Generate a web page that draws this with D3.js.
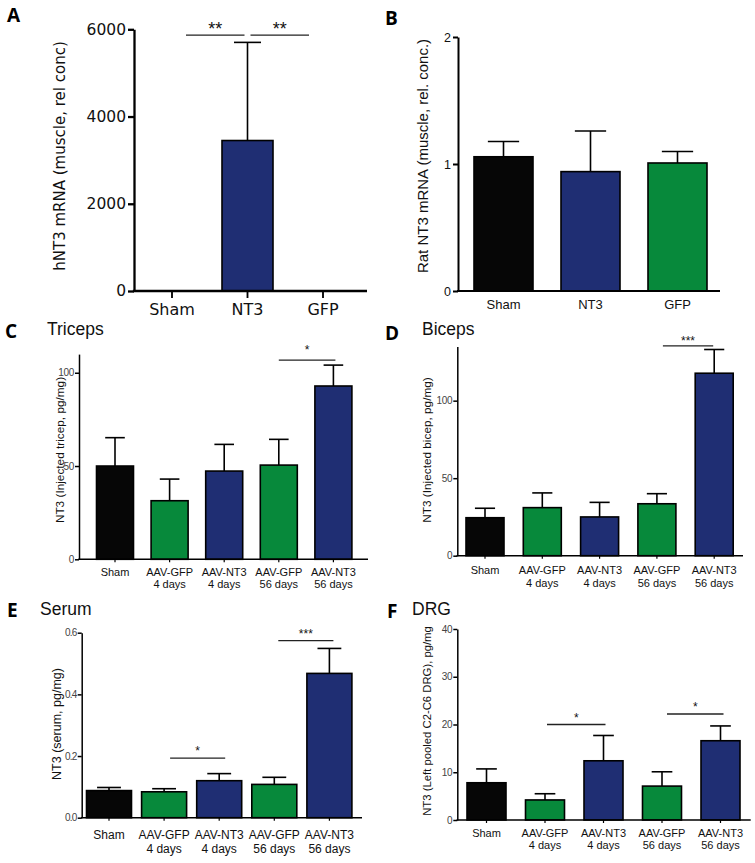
<!DOCTYPE html>
<html><head><meta charset="utf-8">
<script src="https://cdn.jsdelivr.net/npm/d3@7"></script>
<style>body{margin:0;background:#fff}svg{display:block}</style>
</head><body>
<svg id="chart" width="755" height="863"></svg>
<script>
// ---------- data ----------
const catsAB = [["Sham"], ["NT3"], ["GFP"]];
const catsCF = [["Sham"], ["AAV-GFP", "4 days"], ["AAV-NT3", "4 days"], ["AAV-GFP", "56 days"], ["AAV-NT3", "56 days"]];
const groupsAB = ["sham", "nt3", "gfp"];
const groupsCF = ["sham", "gfp", "nt3", "gfp", "nt3"];

const meanA = [0, 3450, 0];
const semA = [0, 2250, 0];
const ticksA = [0, 2000, 4000, 6000];
const sigA = [[0, 1, "**", 5865], [1, 2, "**", 5865]];

const meanB = [1.057, 0.94, 1.008];
const semB = [0.12, 0.32, 0.09];
const ticksB = [0, 1, 2];

const meanC = [50, 31.4, 47.3, 50.5, 92.9];
const semC = [15.2, 11.6, 14.3, 13.8, 11.2];
const ticksC = [0, 50, 100];
const sigC = [[3, 4, "*", 106.8]];

const meanD = [24.5, 31, 25, 33.5, 117.7];
const semD = [6.1, 9.5, 9.4, 6.5, 15.3];
const ticksD = [0, 50, 100];
const sigD = [[3, 4, "***", 135.3]];

const meanE = [0.088, 0.084, 0.12, 0.108, 0.468];
const semE = [0.010, 0.010, 0.023, 0.023, 0.081];
const ticksE = [0, 0.2, 0.4, 0.6];
const sigE = [[1, 2, "*", 0.193], [3, 4, "***", 0.574]];

const meanF = [7.8, 4.2, 12.4, 7.1, 16.6];
const semF = [2.9, 1.3, 5.3, 3.0, 3.1];
const ticksF = [0, 10, 20, 30, 40];
const sigF = [[1, 2, "*", 20.0], [3, 4, "*", 22.2]];

// ---------- styles ----------
const colors = { sham: "#060606", nt3: "#1f2e73", gfp: "#07893b" };
const SANS = "'Liberation Sans', Arial, sans-serif";
const OPEN = "'Open Sans', 'DejaVu Sans', sans-serif";
const WIDE = "'DejaVu Sans', 'Open Sans', sans-serif";

const svg = d3.select("#chart");

const panels = [
  { letter: "A", lx: 7, ly: 22, title: null,
    cats: catsAB, groups: groupsAB, means: meanA, sems: semA, ticks: ticksA, fmt: d3.format("d"),
    domMax: 6000, x0: 134, xEnd: 367, yBase: 291, yTop: 29.3, c0: 172, step: 75.5, bw: 51,
    axisW: 2.3, tickLen: 6, tickFont: WIDE, tickSize: 15.5, tickFill: "#111", tickPad: 2, tickLS: 0,
    xTicks: 7, xFont: WIDE, xSize: 16, xY: 315, xLine: 15,
    yTitle: "hNT3 mRNA (muscle, rel conc)", ytFont: WIDE, ytSize: 15, ytX: 60, ytY: 156,
    sig: sigA, sigInset: [[14, -3], [3, -14]], sigSize: 18, sigDy: 0 },
  { letter: "B", lx: 385, ly: 25, title: null,
    cats: catsAB, groups: groupsAB, means: meanB, sems: semB, ticks: ticksB, fmt: d3.format("d"),
    domMax: 2, x0: 458, xEnd: 720, yBase: 291, yTop: 37, c0: 503.5, step: 87, bw: 59,
    axisW: 2, tickLen: 5, tickFont: SANS, tickSize: 12.5, tickFill: "#111", tickPad: 2, tickLS: 0,
    xTicks: 0, xFont: SANS, xSize: 13, xY: 309, xLine: 14,
    yTitle: "Rat NT3 mRNA (muscle, rel. conc.)", ytFont: SANS, ytSize: 15, ytX: 422, ytY: 156,
    sig: [], sigSize: 12 },
  { letter: "C", lx: 5, ly: 338, title: "Triceps", tx: 47, ty: 335,
    cats: catsCF, groups: groupsCF, means: meanC, sems: semC, ticks: ticksC, fmt: d3.format("d"),
    domMax: 110, x0: 79, xEnd: 368, yBase: 559.3, yTop: 354.1, c0: 115, step: 54.6, bw: 37,
    axisW: 1.5, tickLen: 4, tickFont: SANS, tickSize: 10, tickFill: "#444", tickPad: 1, tickLS: -0.3,
    xTicks: 3, xFont: SANS, xSize: 11, xY: 576, xLine: 12,
    yTitle: "NT3 (Injected tricep, pg/mg)", ytFont: SANS, ytSize: 11.8, ytX: 60, ytY: 450,
    sig: sigC, sigInset: [[0, 2]], sigSize: 12, sigDy: -6 },
  { letter: "D", lx: 385, ly: 340, title: "Biceps", tx: 422, ty: 335,
    cats: catsCF, groups: groupsCF, means: meanD, sems: semD, ticks: ticksD, fmt: d3.format("d"),
    domMax: 135, x0: 457.3, xEnd: 743, yBase: 555.7, yTop: 346.4, c0: 485, step: 57.3, bw: 38,
    axisW: 1.5, tickLen: 4, tickFont: SANS, tickSize: 10, tickFill: "#444", tickPad: 1, tickLS: -0.3,
    xTicks: 3, xFont: SANS, xSize: 11, xY: 574, xLine: 12.5,
    yTitle: "NT3 (Injected bicep, pg/mg)", ytFont: SANS, ytSize: 11.8, ytX: 427, ytY: 450,
    sig: sigD, sigInset: [[6, -1]], sigSize: 12, sigDy: -1 },
  { letter: "E", lx: 7, ly: 617, title: "Serum", tx: 40, ty: 615,
    cats: catsCF, groups: groupsCF, means: meanE, sems: semE, ticks: ticksE, fmt: d3.format(".1f"),
    domMax: 0.6, x0: 81.7, xEnd: 362, yBase: 817.7, yTop: 632.7, c0: 109, step: 55.1, bw: 45,
    axisW: 1.5, tickLen: 4, tickFont: SANS, tickSize: 10, tickFill: "#444", tickPad: 1, tickLS: -0.7,
    xTicks: 3, xFont: SANS, xSize: 12, xY: 839, xLine: 14,
    yTitle: "NT3 (serum, pg/mg)", ytFont: SANS, ytSize: 12.5, ytX: 57, ytY: 724,
    sig: sigE, sigInset: [[6, 6], [4, 4]], sigSize: 12, sigDy: -3 },
  { letter: "F", lx: 387, ly: 618, title: "DRG", tx: 412, ty: 615,
    cats: catsCF, groups: groupsCF, means: meanF, sems: semF, ticks: ticksF, fmt: d3.format("d"),
    domMax: 40, x0: 457.3, xEnd: 750.7, yBase: 820, yTop: 629, c0: 486.5, step: 58.5, bw: 39,
    axisW: 1.5, tickLen: 4, tickFont: SANS, tickSize: 10, tickFill: "#444", tickPad: 1, tickLS: -0.3,
    xTicks: 3, xFont: SANS, xSize: 11, xY: 837, xLine: 12,
    yTitle: "NT3 (Left pooled C2-C6 DRG), pg/mg", ytFont: SANS, ytSize: 11.3, ytX: 427, ytY: 721,
    sig: sigF, sigInset: [[2, 2], [5, 3]], sigSize: 12, sigDy: -3 }
];

function drawPanel(p) {
  const g = svg.append("g");
  const n = p.means.length;
  const y = d3.scaleLinear().domain([0, p.domMax]).range([p.yBase, p.yTop]);
  const pi = 1 - p.bw / p.step;
  const r0 = p.c0 - p.step / 2;
  const x = d3.scaleBand().domain(d3.range(n)).range([r0, r0 + p.step * n])
    .paddingInner(pi).paddingOuter(pi / 2);
  const cx = i => x(i) + x.bandwidth() / 2;
  const data = p.means.map((m, i) => ({ i, m, s: p.sems[i], grp: p.groups[i] }));

  // bars
  g.selectAll("rect.bar").data(data.filter(d => d.m > 0)).join("rect")
    .attr("class", "bar")
    .attr("x", d => x(d.i)).attr("width", x.bandwidth())
    .attr("y", d => y(d.m)).attr("height", d => p.yBase - y(d.m))
    .attr("fill", d => colors[d.grp]).attr("stroke", "#000").attr("stroke-width", 1.6);

  // error bars
  const capW = x.bandwidth() * 0.53;
  const eb = data.filter(d => d.s > 0);
  g.selectAll("line.ev").data(eb).join("line")
    .attr("x1", d => cx(d.i)).attr("x2", d => cx(d.i))
    .attr("y1", d => y(d.m)).attr("y2", d => y(d.m + d.s))
    .attr("stroke", "#000").attr("stroke-width", 1.6);
  g.selectAll("line.ec").data(eb).join("line")
    .attr("x1", d => cx(d.i) - capW / 2).attr("x2", d => cx(d.i) + capW / 2)
    .attr("y1", d => y(d.m + d.s)).attr("y2", d => y(d.m + d.s))
    .attr("stroke", "#000").attr("stroke-width", 1.6);

  // y axis
  const ya = g.append("g").attr("transform", `translate(${p.x0},0)`)
    .call(d3.axisLeft(y).tickValues(p.ticks).tickFormat(p.fmt).tickSize(p.tickLen).tickSizeOuter(0).tickPadding(p.tickPad));
  ya.select(".domain").attr("stroke", "#000").attr("stroke-width", p.axisW);
  ya.selectAll(".tick line").attr("stroke", "#000").attr("stroke-width", p.axisW);
  ya.selectAll(".tick text").attr("font-family", p.tickFont).attr("font-size", p.tickSize)
    .attr("fill", p.tickFill).attr("letter-spacing", p.tickLS);

  // x baseline
  g.append("line").attr("x1", p.x0 - p.axisW / 2).attr("x2", p.xEnd)
    .attr("y1", p.yBase).attr("y2", p.yBase).attr("stroke", "#000").attr("stroke-width", p.axisW);
  if (p.xTicks) {
    g.selectAll("line.xt").data(d3.range(n)).join("line")
      .attr("x1", cx).attr("x2", cx).attr("y1", p.yBase).attr("y2", p.yBase + p.xTicks)
      .attr("stroke", "#000").attr("stroke-width", p.axisW * 0.8);
  }
  // x labels
  const xl = g.selectAll("text.xl").data(p.cats).join("text")
    .attr("text-anchor", "middle").attr("font-family", p.xFont).attr("font-size", p.xSize).attr("fill", "#111");
  xl.each(function (lines, i) {
    d3.select(this).selectAll("tspan").data(lines).join("tspan")
      .attr("x", cx(i)).attr("y", (t, k) => p.xY + k * p.xLine).text(t => t);
  });

  // y title
  g.append("text").attr("transform", `translate(${p.ytX},${p.ytY}) rotate(-90)`)
    .attr("text-anchor", "middle").attr("dominant-baseline", "central")
    .attr("font-family", p.ytFont).attr("font-size", p.ytSize).attr("fill", "#111").text(p.yTitle);

  // significance
  p.sig.forEach((s, k) => {
    const [a, b, lab, lvl] = s;
    const ins = p.sigInset[k];
    const x1 = cx(a) + ins[0], x2 = cx(b) + ins[1];
    g.append("line").attr("x1", x1).attr("x2", x2).attr("y1", y(lvl)).attr("y2", y(lvl))
      .attr("stroke", "#222").attr("stroke-width", 1.3);
    g.append("text").attr("x", (x1 + x2) / 2).attr("y", y(lvl) + p.sigDy)
      .attr("text-anchor", "middle").attr("font-family", SANS).attr("font-size", p.sigSize)
      .attr("fill", "#111").text(lab);
  });

  // letter + title
  g.append("text").attr("x", p.lx).attr("y", p.ly).attr("font-family", OPEN).attr("font-weight", "bold")
    .attr("font-size", 19).attr("fill", "#000").text(p.letter);
  if (p.title) {
    g.append("text").attr("x", p.tx).attr("y", p.ty).attr("font-family", SANS)
      .attr("font-size", 17.5).attr("fill", "#111").text(p.title);
  }
}

panels.forEach(drawPanel);
</script>
</body></html>
